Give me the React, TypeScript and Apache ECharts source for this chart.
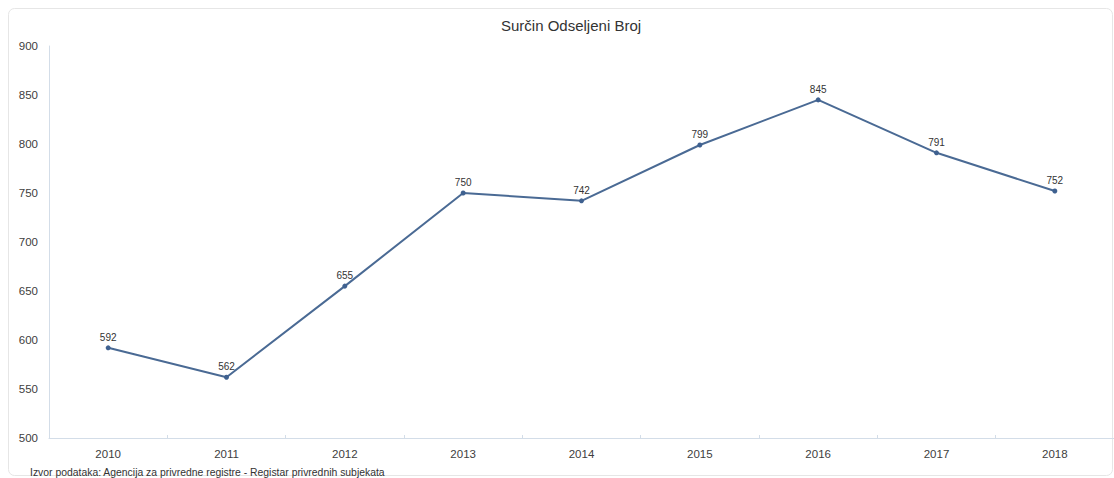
import React, { useEffect, useRef } from "react";
import * as echarts from "echarts";

const title = "Surčin Odseljeni Broj";
const source = "Izvor podataka: Agencija za privredne registre - Registar privrednih subjekata";
const years = ["2010", "2011", "2012", "2013", "2014", "2015", "2016", "2017", "2018"];
const values = [592, 562, 655, 750, 742, 799, 845, 791, 752];
const yMin = 500;
const yMax = 900;
const yStep = 50;

export default function App() {
  const ref = useRef<HTMLDivElement>(null);
  useEffect(() => {
    if (!ref.current) return;
    const chart = echarts.init(ref.current, null, { renderer: "svg" });
    const font = "'Liberation Sans', Arial, sans-serif";
    chart.setOption({
      animation: false,
      backgroundColor: "#ffffff",
      textStyle: { fontFamily: font },
      title: {
        text: title,
        left: 496,
        top: 13,
        textStyle: { fontFamily: font, fontSize: 15, fontWeight: "normal", color: "#333333" },
      },
      graphic: [
        {
          type: "rect",
          shape: { x: 8.5, y: 8.5, width: 1104, height: 467, r: 6 },
          style: { fill: "none", stroke: "#e6e6e6", lineWidth: 1 },
          silent: true,
          z: -1,
        },
        {
          type: "text",
          left: 30,
          top: 467,
          style: { text: source, fontFamily: font, fontSize: 10.4, fill: "#333333" },
        },
      ],
      grid: { left: 49, right: -2, top: 46, bottom: 40, containLabel: false },
      xAxis: {
        type: "category",
        data: years,
        boundaryGap: true,
        axisLine: { show: true, lineStyle: { color: "#d3dde8", width: 1 } },
        axisTick: { show: true, length: 3, inside: true, lineStyle: { color: "#d3dde8" } },
        axisLabel: { color: "#404040", fontSize: 11.5, margin: 10, fontFamily: font },
        splitLine: { show: false },
      },
      yAxis: {
        type: "value",
        min: yMin,
        max: yMax,
        interval: yStep,
        axisLine: { show: true, lineStyle: { color: "#d3dde8", width: 1 } },
        axisTick: { show: false },
        axisLabel: { color: "#404040", fontSize: 11.5, margin: 11, fontFamily: font },
        splitLine: { show: false },
      },
      series: [
        {
          type: "line",
          data: values,
          symbol: "circle",
          symbolSize: 5,
          lineStyle: { color: "#4a6a94", width: 2 },
          itemStyle: { color: "#3f6190" },
          label: {
            show: true,
            position: "top",
            distance: 3,
            fontSize: 10,
            color: "#333333",
            fontFamily: font,
          },
        },
      ],
    });
    return () => chart.dispose();
  }, []);
  return (
    <div
      ref={ref}
      style={{ position: "absolute", left: 0, top: 0, width: 1114, height: 478 }}
    />
  );
}
